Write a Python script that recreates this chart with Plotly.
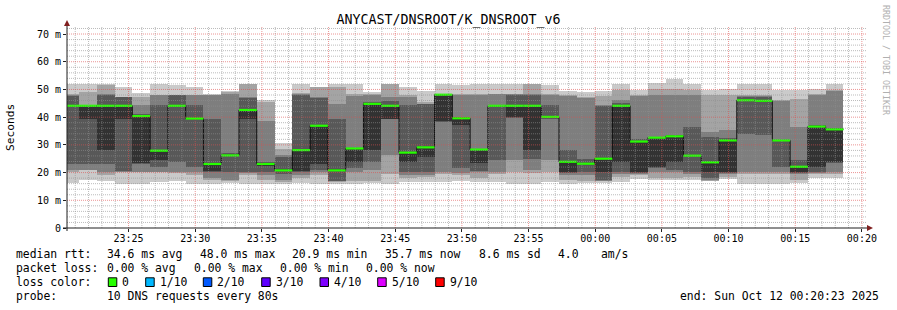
import plotly.graph_objects as go
import pandas as pd

# ---------------- data ----------------
title_text = "ANYCAST/DNSROOT/K_DNSROOT_v6"
sample_start = "2025-10-11 23:19:57"
step_seconds = 80
window = ["2025-10-11 23:20:23", "2025-10-12 00:20:23"]

# ten sorted ping times (ms) per 80 s sample
ping1 = [16.2,17.2,17.0,16.0,16.0,16.6,16.8,16.0,16.0,16.3,16.0,16.0,16.0,16.3,16.0,16.0,16.0,16.4,16.0,16.5,16.6,16.6,17.0,16.5,16.6,16.0,16.0,16.5,16.0,16.3,16.3,16.6,17.8,17.5,17.5,17.5,16.8,17.8,16.0,16.0,16.0,16.2,18.0,18.0]
ping2 = [20.2,21.0,19.0,20.2,20.2,20.2,20.0,19.0,17.5,17.0,19.0,17.5,16.5,18.0,19.0,16.5,17.0,17.0,19.5,18.0,18.5,19.5,19.0,18.0,19.5,20.2,20.0,20.2,17.5,17.0,16.8,18.5,19.0,18.0,18.0,18.5,17.0,18.5,19.5,19.5,19.5,17.5,19.5,19.5]
ping3 = [21.0,21.0,20.2,20.2,20.2,20.2,20.2,20.2,18.0,17.5,20.0,19.0,17.5,19.0,20.2,16.8,20.2,21.0,26.2,19.0,19.0,20.2,20.0,20.2,20.2,24.4,21.0,24.4,19.0,19.0,17.0,19.5,19.5,20.2,20.2,19.5,17.5,19.5,20.2,20.2,20.2,19.5,20.0,20.2]
ping4 = [23.2,23.2,23.2,20.4,23.2,22.0,23.8,22.0,20.2,20.2,20.2,20.2,19.5,20.2,21.0,17.0,21.5,24.0,39.4,20.2,20.2,38.3,21.5,20.5,24.4,39.8,25.0,39.5,20.0,20.2,17.5,20.2,20.0,21.5,21.0,20.2,18.0,20.0,34.0,33.4,22.0,19.8,20.2,23.6]
ping5 = [44.0,39.5,28.3,39.5,23.4,24.4,44.0,39.4,20.5,26.1,39.5,22.5,20.7,20.5,23.2,20.6,24.0,28.2,39.5,23.8,25.6,38.5,37.0,23.5,44.0,40.0,28.3,40.0,20.2,23.1,20.2,23.8,20.2,22.0,23.8,26.0,20.2,20.2,46.0,45.8,31.5,20.2,22.0,23.8]
ping6 = [44.1,44.1,44.1,44.1,40.4,28.0,44.1,39.6,23.2,26.3,42.6,23.2,21.0,28.1,36.9,21.0,28.8,44.8,44.1,27.2,29.2,48.1,39.6,28.3,44.1,44.1,44.1,40.2,23.9,23.3,25.0,44.1,31.2,32.6,33.1,26.1,23.7,31.6,46.1,45.9,31.6,22.1,36.6,35.6]
ping7 = [47.5,44.5,48.0,47.3,41.0,44.3,47.9,44.3,39.5,27.0,47.0,24.0,25.5,48.0,47.0,39.5,28.9,45.5,46.0,44.3,44.6,48.2,40.0,28.5,44.3,48.0,48.0,44.3,28.3,25.0,44.0,45.0,32.0,33.0,33.5,36.5,33.0,32.5,47.3,47.3,31.8,24.5,37.0,36.0]
ping8 = [48.0,44.5,48.2,47.3,44.3,47.9,48.0,47.9,47.9,48.3,47.3,38.5,26.5,48.3,47.3,44.9,47.8,48.0,47.3,47.3,44.9,48.3,48.0,48.0,48.2,48.2,48.5,47.9,47.6,47.0,44.3,46.1,47.6,48.0,48.0,48.0,34.6,35.2,47.6,47.6,45.8,36.5,48.0,49.5]
ping9 = [48.5,49.1,51.6,47.3,47.3,47.9,48.0,48.0,47.9,49.1,51.8,45.5,28.5,48.6,50.9,51.0,48.2,48.5,51.8,48.0,45.5,48.5,48.2,48.3,48.5,48.5,51.8,48.2,47.9,47.3,47.5,49.7,47.9,50.0,50.0,49.7,47.9,47.9,47.9,47.9,46.1,46.5,48.2,49.7]
ping10 = [52.0,51.8,52.0,50.9,48.8,51.8,51.5,51.0,48.2,49.4,52.0,46.1,30.5,52.0,51.0,51.8,51.8,49.0,52.0,51.0,49.4,52.0,51.5,51.8,52.0,52.0,52.0,51.5,49.6,49.1,49.4,51.8,49.7,52.2,53.8,52.0,49.7,50.3,52.0,52.0,49.7,49.7,50.3,52.0]
median = [44.1,44.1,44.1,44.1,40.4,27.9,44.1,39.5,23.1,26.2,42.6,23.1,20.8,28.1,36.9,20.8,28.7,44.8,44.1,27.2,29.1,48.1,39.6,28.3,44.1,44.1,44.1,40.1,23.9,23.2,25.0,44.1,31.2,32.6,33.1,26.1,23.7,31.6,46.1,45.9,31.6,22.1,36.6,35.6]

y_tick_vals = [0, 10, 20, 30, 40, 50, 60, 70]
y_tick_text = ["0", "10 m", "20 m", "30 m", "40 m", "50 m", "60 m", "70 m"]
x_tick_start, x_tick_end = "2025-10-11 23:25", "2025-10-12 00:20"

# legend statistics
rtt_stats = ["34.6 ms avg", "48.0 ms max", "20.9 ms min", "35.7 ms now", "8.6 ms sd", "4.0", "am/s"]
loss_stats = ["0.00 % avg", "0.00 % max", "0.00 % min", "0.00 % now"]
loss_labels = ["0", "1/10", "2/10", "3/10", "4/10", "5/10", "9/10"]
loss_colors = ["#26ff00", "#00b8ff", "#0059ff", "#5e00ff", "#7e00ff", "#dd00ff", "#ff0000"]
probe_text = "10 DNS requests every 80s"
end_text = "end: Sun Oct 12 00:20:23 2025"

# ---------------- styling ----------------
FONT = "DejaVu Sans Mono"
smoke_colors = ["#cacaca", "#a4a4a4", "#7e7e7e", "#585858", "#323232"]
W, H = 897, 310
L, R, T, B = 67, 867, 27, 228
YMAX = (B - T) / 2.771


def px(x):
    return (x - L) / (R - L)


def py(y):
    return (B - y) / (B - T)


starts = pd.date_range(sample_start, periods=len(median), freq=f"{step_seconds}s")
ends = starts + pd.Timedelta(seconds=step_seconds)
pings = [ping1, ping2, ping3, ping4, ping5, ping6, ping7, ping8, ping9, ping10]

fig = go.Figure()
for i in range(5):
    lo, hi = pings[i], pings[9 - i]
    fig.add_trace(go.Bar(
        x=starts, y=[h - l for h, l in zip(hi, lo)], base=lo,
        width=step_seconds * 1000, offset=0,
        marker=dict(color=smoke_colors[i], line=dict(width=0)),
        hoverinfo="skip", showlegend=False))

# median step line
fig.add_trace(go.Scatter(
    x=list(starts) + [ends[-1]], y=median + [median[-1]], mode="lines",
    line=dict(color="#101010", width=1, shape="hv"), hoverinfo="skip", showlegend=False))
gx, gy = [], []
for s, e, m in zip(starts, ends, median):
    gx += [s, e, None]
    gy += [m, m, None]
fig.add_trace(go.Scatter(x=gx, y=gy, mode="lines", line=dict(color="#26ff00", width=2.2),
                         hoverinfo="skip", showlegend=False))

shapes = []
minor_col = "rgba(143,143,143,0.6)"
major_col = "rgba(222,79,79,0.6)"
for t in pd.date_range("2025-10-11 23:21", "2025-10-12 00:20", freq="1min"):
    major = t.minute % 5 == 0
    shapes.append(dict(type="line", xref="x", yref="paper", x0=t, x1=t, y0=0, y1=1,
                       line=dict(color=major_col if major else minor_col, width=1, dash="1px,1px"),
                       layer="above"))
for v in range(2, 73, 2):
    major = v % 10 == 0
    shapes.append(dict(type="line", xref="paper", yref="y", x0=0, x1=1, y0=v, y1=v,
                       line=dict(color=major_col if major else minor_col, width=1, dash="1px,1px"),
                       layer="above"))
# axis lines
shapes.append(dict(type="line", xref="paper", yref="paper", x0=0, x1=0, y0=py(231), y1=py(22),
                   line=dict(color="#1f1f1f", width=1), layer="above"))
shapes.append(dict(type="line", xref="paper", yref="paper", x0=px(63), x1=px(869), y0=0, y1=0,
                   line=dict(color="#1f1f1f", width=1), layer="above"))
# arrows
shapes.append(dict(type="path", xref="paper", yref="paper", xsizemode="pixel", ysizemode="pixel",
                   xanchor=0, yanchor=1, path="M -3,1 L 3,1 L 0,7 Z",
                   fillcolor="#801f1f", line=dict(width=0), layer="above"))
shapes.append(dict(type="path", xref="paper", yref="paper", xsizemode="pixel", ysizemode="pixel",
                   xanchor=1, yanchor=0, path="M 0,-3 L 0,3 L 6,0 Z",
                   fillcolor="#801f1f", line=dict(width=0), layer="above"))

annotations = []
LF = 11.4


def txt(x, y, s, anchor="left", size=LF, color="#000000"):
    annotations.append(dict(xref="paper", yref="paper", x=px(x), y=py(y), text=s, showarrow=False,
                            xanchor=anchor, yanchor="middle", borderpad=0,
                            font=dict(family=FONT, size=size, color=color)))


txt(15, 254, "median rtt:")
for s, x in zip(rtt_stats, [106, 199, 291, 384, 478, 557, 600]):
    txt(x, 254, s)
txt(15, 268, "packet loss:")
for s, x in zip(loss_stats, [106, 192.5, 278.5, 365]):
    txt(x, 268, s)
txt(15, 282, "loss color:")
for lab, col, bx in zip(loss_labels, loss_colors, [108.3, 145.7, 203.3, 261.7, 320, 377.7, 435.7]):
    shapes.append(dict(type="rect", xref="paper", yref="paper", x0=px(bx), x1=px(bx + 8.5),
                       y0=py(286.5), y1=py(277.8), fillcolor=col,
                       line=dict(color="#000000", width=1)))
    txt(bx + 13, 282, lab)
txt(15, 296, "probe:")
txt(106, 296, probe_text)
txt(880, 296, end_text, anchor="right")

annotations.append(dict(xref="paper", yref="paper", x=px(11), y=py(127), text="Seconds",
                        textangle=-90, showarrow=False, xanchor="center", yanchor="middle",
                        font=dict(family=FONT, size=11.2, color="#000000")))
annotations.append(dict(xref="paper", yref="paper", x=px(886), y=py(60), text="RRDTOOL / TOBI OETIKER",
                        textangle=90, showarrow=False, xanchor="center", yanchor="middle",
                        font=dict(family=FONT, size=8.3, color="#b0b0b0")))

fig.update_layout(
    width=W, height=H, margin=dict(l=L, r=W - R, t=T, b=H - B),
    paper_bgcolor="#ffffff", plot_bgcolor="#ffffff",
    barmode="overlay", bargap=0, showlegend=False,
    title=dict(text=title_text, x=0.5, xref="container", xanchor="center",
               y=1 - 19 / H, yref="container", yanchor="middle",
               font=dict(family=FONT, size=13.3, color="#000000")),
    shapes=shapes, annotations=annotations,
    xaxis=dict(type="date", range=window, showgrid=False, zeroline=False, showline=False,
               tickvals=list(pd.date_range(x_tick_start, x_tick_end, freq="5min")),
               tickformat="%H:%M", ticks="outside", ticklen=3, tickcolor="#1f1f1f",
               ticklabelstandoff=-2,
               tickfont=dict(family=FONT, size=10, color="#000000"), fixedrange=True),
    yaxis=dict(range=[0, YMAX], showgrid=False, zeroline=False, showline=False,
               tickvals=y_tick_vals, ticktext=y_tick_text, ticks="outside", ticklen=3,
               tickcolor="#1f1f1f", tickfont=dict(family=FONT, size=10, color="#000000"),
               fixedrange=True),
)

fig.write_html("out.html")
